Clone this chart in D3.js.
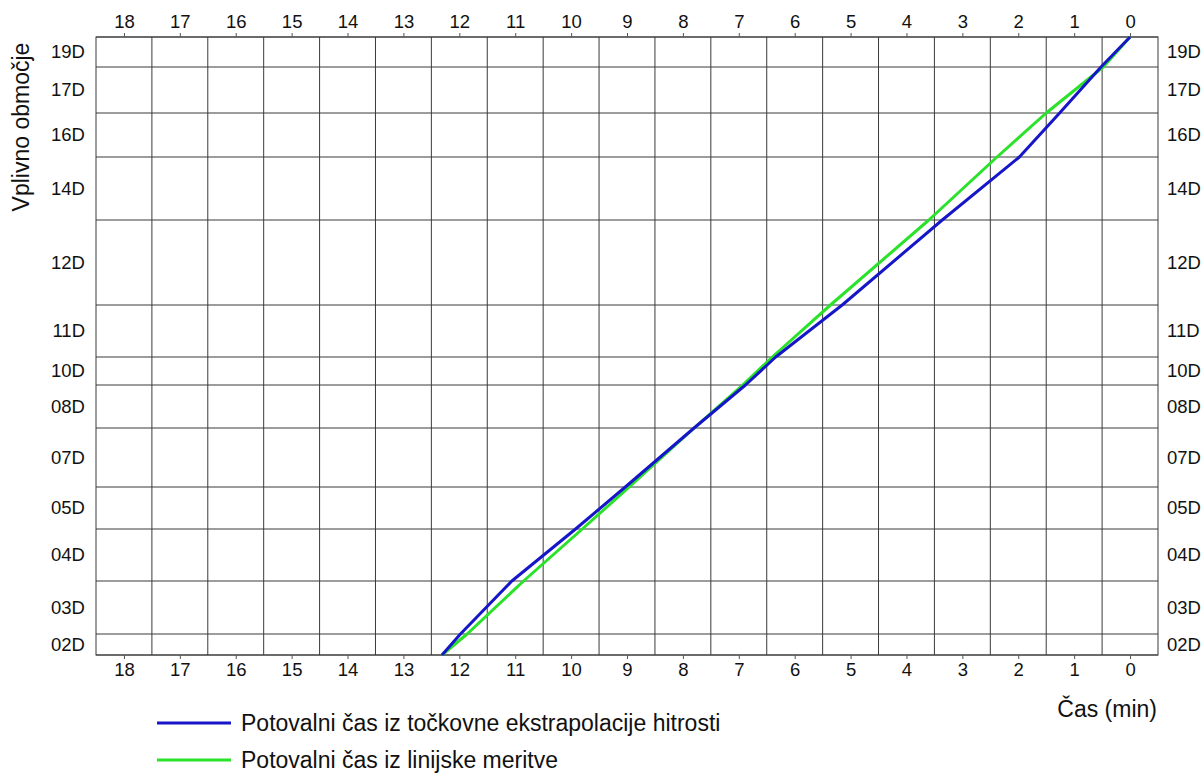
<!DOCTYPE html>
<html>
<head>
<meta charset="utf-8">
<script src="https://cdn.jsdelivr.net/npm/d3@7"></script>
<style>
  html, body { margin: 0; padding: 0; background: #fff; }
  svg { display: block; font-family: "Liberation Sans", Arial, sans-serif; }
</style>
</head>
<body>
<svg id="chart" width="1203" height="773"></svg>
<script>
// ---- data ----
const zones = ["19D","17D","16D","14D","12D","11D","10D","08D","07D","05D","04D","03D","02D"];
// boundaries of the zones along the river (distance units, top -> bottom)
const zoneBounds = [0, 30, 76, 120, 183, 268, 320, 348, 391, 450, 492, 544, 597, 618];
// travel time (min) at each boundary
const timeBlue  = [0, 0.52, 1.26, 1.98, 3.36, 5.15, 6.34, 6.88, 7.80, 9.03, 9.92, 11.06, 11.98, 12.31];
const timeGreen = [0, 0.48, 1.50, 2.38, 3.60, 5.36, 6.40, 6.93, 7.80, 8.96, 9.80, 10.85, 11.86, 12.31];
const timeTicks = [18,17,16,15,14,13,12,11,10,9,8,7,6,5,4,3,2,1,0];
const gridTimes = [17.5,16.5,15.5,14.5,13.5,12.5,11.5,10.5,9.5,8.5,7.5,6.5,5.5,4.5,3.5,2.5,1.5,0.5];
const seriesNames = ["Potovalni čas iz točkovne ekstrapolacije hitrosti", "Potovalni čas iz linijske meritve"];
const seriesColors = ["#1616c8", "#2ae22a"];

// ---- layout ----
const mL = 96, mR = 1158, mT = 37, mB = 655;
const svg = d3.select("#chart");
const x = d3.scaleLinear().domain([18.5, -0.5]).range([mL, mR]);
const y = d3.scaleLinear().domain([0, 618]).range([mT, mB]);

const gridColor = "#3a3a3a";

// vertical grid
svg.append("g").selectAll("line").data(gridTimes).join("line")
  .attr("x1", d => x(d)).attr("x2", d => x(d))
  .attr("y1", mT).attr("y2", mB)
  .attr("stroke", gridColor).attr("stroke-width", 1);
// horizontal zone boundaries
svg.append("g").selectAll("line").data(zoneBounds).join("line")
  .attr("x1", mL).attr("x2", mR)
  .attr("y1", d => y(d)).attr("y2", d => y(d))
  .attr("stroke", gridColor).attr("stroke-width", 1);
// frame
svg.append("rect").attr("x", mL).attr("y", mT)
  .attr("width", mR - mL).attr("height", mB - mT)
  .attr("fill", "none").attr("stroke", gridColor).attr("stroke-width", 1);

// axes
function styleAxis(g) {
  g.select(".domain").remove();
  g.selectAll(".tick line").attr("stroke", "#555");
  g.selectAll(".tick text").attr("fill", "#111").style("font-size", "18.5px")
    .style("font-family", '"Liberation Sans", Arial, sans-serif');
}
svg.append("g").attr("transform", `translate(0,${mT})`)
  .call(d3.axisTop(x).tickValues(timeTicks).tickFormat(d3.format("d")).tickSize(4).tickPadding(5))
  .call(styleAxis);
svg.append("g").attr("transform", `translate(0,${mB})`)
  .call(d3.axisBottom(x).tickValues(timeTicks).tickFormat(d3.format("d")).tickSize(4).tickPadding(4))
  .call(styleAxis);

// zone labels at zone midpoints
const mids = zones.map((z, i) => (zoneBounds[i] + zoneBounds[i + 1]) / 2);
svg.append("g").attr("transform", `translate(${mL},0)`)
  .call(d3.axisLeft(y).tickValues(mids).tickFormat((d, i) => zones[i]).tickSize(0).tickPadding(11))
  .call(styleAxis);
svg.append("g").attr("transform", `translate(${mR},0)`)
  .call(d3.axisRight(y).tickValues(mids).tickFormat((d, i) => zones[i]).tickSize(0).tickPadding(9))
  .call(styleAxis);

// lines
const line = d3.line().x(d => x(d[0])).y(d => y(d[1]));
[timeGreen, timeBlue].forEach((arr, k) => {
  const idx = k === 0 ? 1 : 0;
  svg.append("path")
    .datum(arr.map((t, i) => [t, zoneBounds[i]]))
    .attr("d", line)
    .attr("fill", "none")
    .attr("stroke", seriesColors[idx])
    .attr("stroke-width", 3)
    .attr("stroke-linejoin", "round");
});

// titles
svg.append("text").attr("transform", "translate(29,127) rotate(-90)")
  .attr("text-anchor", "middle").style("font-size", "23px").attr("fill", "#111")
  .text("Vplivno območje");
svg.append("text").attr("x", 1157).attr("y", 717)
  .attr("text-anchor", "end").style("font-size", "23px").attr("fill", "#111")
  .text("Čas (min)");

// legend
const leg = svg.append("g");
seriesNames.forEach((name, i) => {
  const ly = 723 + i * 37;
  leg.append("line").attr("x1", 157).attr("x2", 231).attr("y1", ly).attr("y2", ly)
    .attr("stroke", seriesColors[i]).attr("stroke-width", 3);
  leg.append("text").attr("x", 241).attr("y", ly + 8)
    .style("font-size", "23px").attr("fill", "#111").text(name);
});
</script>
</body>
</html>
